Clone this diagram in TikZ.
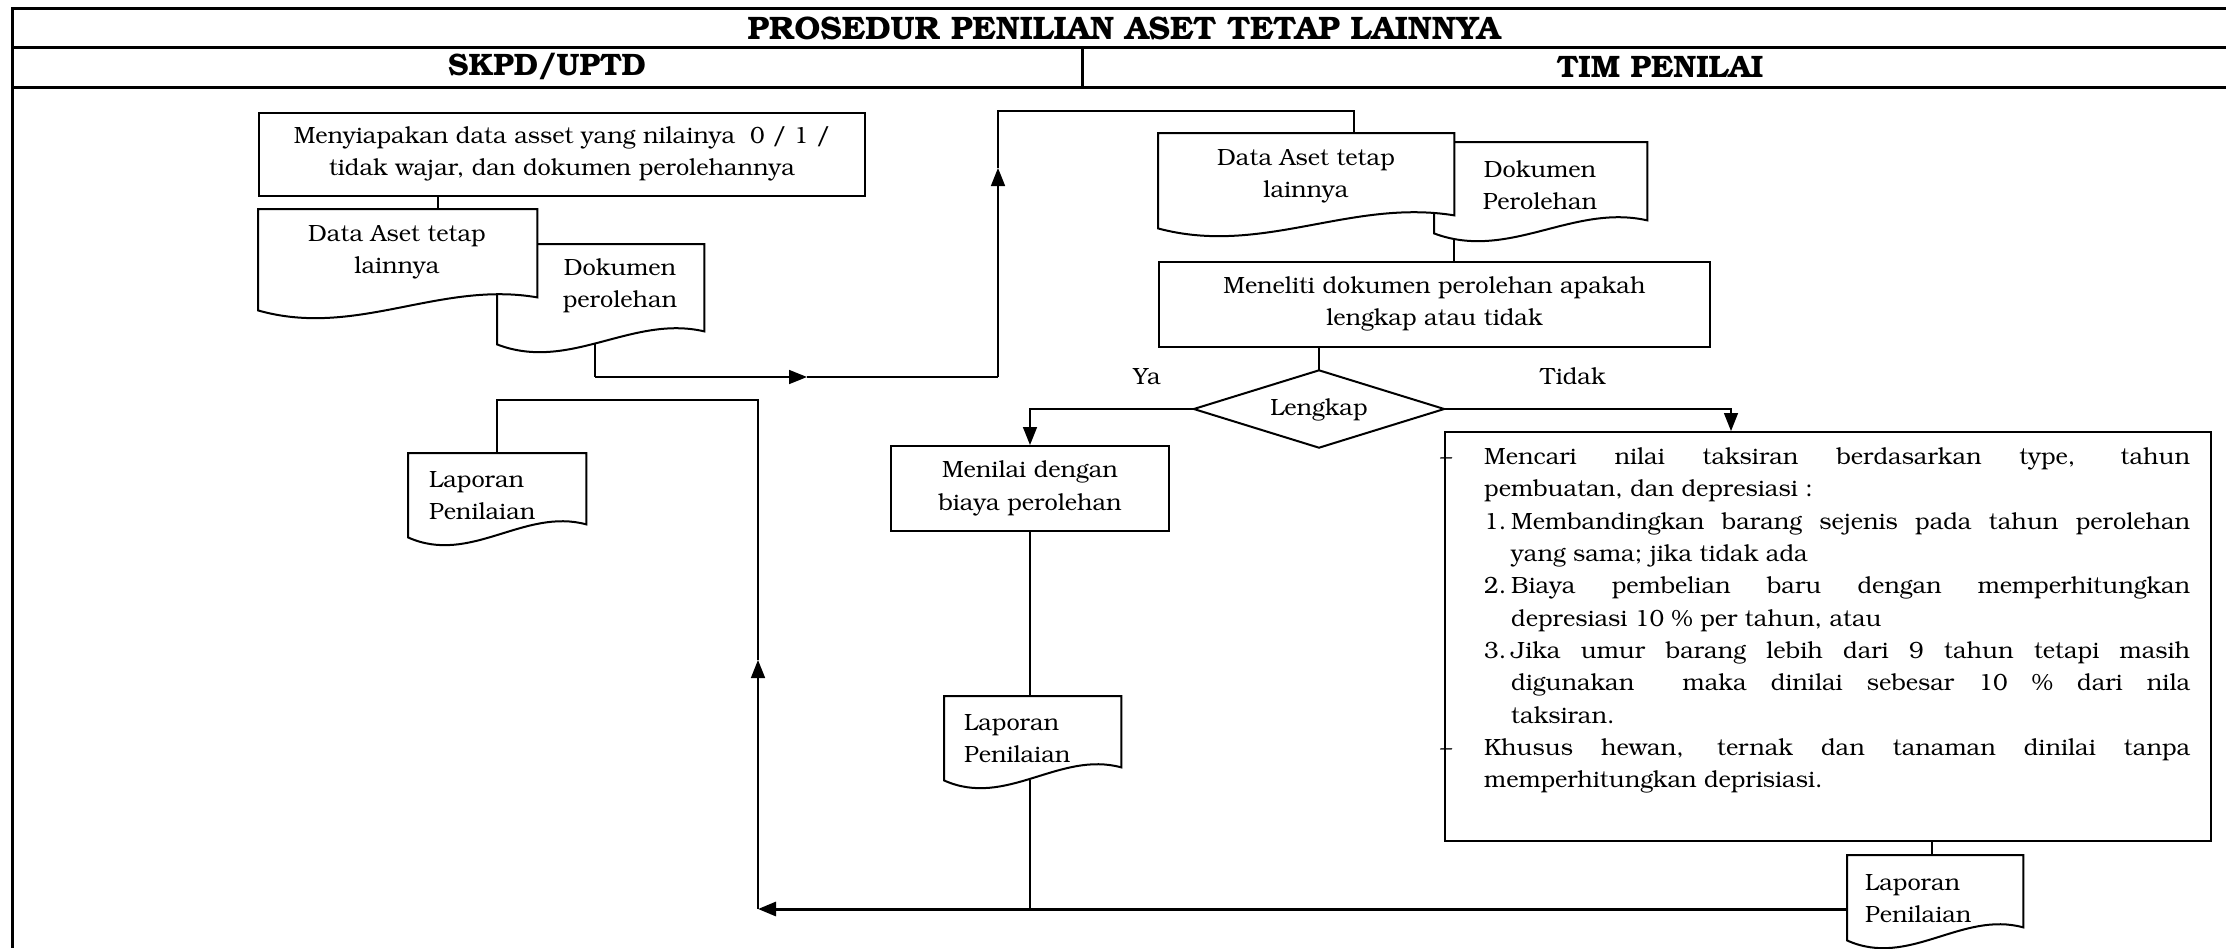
\documentclass[tikz,border=0pt]{standalone}
\usepackage[T1]{fontenc}
\usepackage{bookman}
\usetikzlibrary{arrows.meta,shapes.geometric,calc}

\tikzset{
  frameline/.style={line width=3pt},
  boxline/.style={draw, line width=2pt, fill=white},
  conn/.style={line width=1.6pt},
  heavy/.style={line width=3pt},
  tipped/.style={-{Triangle[length=18pt,width=14pt]}},
  body/.style={font=\fontsize{23.5}{32.3}\selectfont},
  procbox/.style={boxline, body, align=center, inner sep=0pt, anchor=north west},
  docarea/.style={rectangle, inner sep=0pt, anchor=north west},
  doctext/.style={body, align=center, inner sep=0pt},
  doctextl/.style={body, align=left, inner sep=0pt, anchor=west},
  head/.style={font=\fontsize{31}{36}\selectfont\bfseries, inner sep=0pt},
}

% document symbol: straight top and sides, wavy bottom edge
\newcommand{\docoutline}[1]{%
  \draw[line width=2pt, fill=white]
    (#1.north west) -- (#1.north east) -- ($(#1.south east)+(0,-13)$)
    .. controls ($(#1.south west)!0.65!(#1.south east)+(0,-30)$)
           and ($(#1.south west)!0.35!(#1.south east)+(0,28)$) .. (#1.south west)
    -- cycle;}

\begin{document}
\begin{tikzpicture}[x=1pt,y=-1pt]
\fill[white] (0,0) rectangle (2226,948);
\useasboundingbox (0,0) rectangle (2226,948);

% table frame
\draw[frameline] (2226,8) -- (12,8) -- (12,948);
\draw[frameline] (12,47) -- (2226,47);
\draw[frameline] (12,87) -- (2226,87);
\draw[frameline] (1082,47) -- (1082,87);
\node[head, font=\fontsize{32.5}{36}\selectfont\bfseries] (title) at (1124,28) {PROSEDUR PENILIAN ASET TETAP LAINNYA};
\node[head] (laneA) at (547,67) {SKPD/UPTD};
\node[head] (laneB) at (1660,67) {TIM PENILAI};

% process boxes
\node[procbox, minimum width=606pt, minimum height=83pt] (prep) at (258,112)
  {Menyiapakan data asset yang nilainya\ \ 0 / 1 /\\tidak wajar, dan dokumen perolehannya};
\node[procbox, minimum width=551pt, minimum height=85pt] (check) at (1158,261)
  {Meneliti dokumen perolehan apakah\\lengkap atau tidak};
\node[procbox, minimum width=278pt, minimum height=85pt] (cost) at (890,445)
  {Menilai dengan\\biaya perolehan};
\node[boxline, minimum width=766pt, minimum height=409pt, anchor=north west] (rules) at (1444,431) {};

% decision: area, outline, label
\node[rectangle, inner sep=0pt, minimum width=250pt, minimum height=77pt] (dia) at (1319,409) {};
\draw[line width=2pt, fill=white] (dia.north) -- (dia.east) -- (dia.south) -- (dia.west) -- cycle;
\node[body, inner sep=0pt] (dialabel) at ([yshift=-1pt]dia.center) {Lengkap};

% areas of the document symbols
\node[docarea, minimum width=279pt, minimum height=101pt] (dl1) at (258,209) {};
\node[docarea, minimum width=207pt, minimum height=100pt] (dl2) at (497,244) {};
\node[docarea, minimum width=296pt, minimum height=95pt] (dr1) at (1158,133) {};
\node[docarea, minimum width=213pt, minimum height=91pt] (dr2) at (1434,142) {};
\node[docarea, minimum width=178pt, minimum height=84pt] (lapL) at (408,453) {};
\node[docarea, minimum width=177pt, minimum height=84pt] (lapM) at (944,696) {};
\node[docarea, minimum width=176pt, minimum height=85pt] (lapR) at (1847,855) {};

% connectors
\draw[conn] ([xshift=40.5pt]dl1.north) -- ([xshift=40.5pt]dl1.north |- prep.south);

\coordinate (c1) at ([xshift=-5.5pt]dl2.south);
\coordinate (c2) at (998,377);
\coordinate (m1) at (807,377);
\coordinate (m2) at (998,168);
\coordinate (c3) at (998,111);
\draw[conn] (c1) -- (c1 |- c2);
\draw[conn,tipped] (c1 |- c2) -- (m1);
\draw[conn] (m1) -- (c2);
\draw[conn,tipped] (c2) -- (m2);
\draw[conn] (m2) -- (c3) -- ([xshift=48pt]dr1.north |- c3) -- ([xshift=48pt]dr1.north);

\draw[conn] ([xshift=-86.5pt]dr2.south) -- ([xshift=-86.5pt]dr2.south |- check.north);
\draw[conn] (dia.north |- check.south) -- (dia.north);

\draw[conn,tipped] (dia.west) -| (cost.north);
\draw[conn,tipped] (dia.east) -| ([xshift=-97pt]rules.north);

\draw[conn] (cost.south) -- (cost.south |- lapM.north);
\coordinate (b1) at (758,909);
\draw[conn] (cost.south |- lapM.south) -- (cost.south |- b1);
\draw[conn] ([xshift=104pt]rules.south) -- ([xshift=104pt]rules.south |- lapR.north);

\draw[heavy,tipped] (b1 -| lapR.west) -- (b1);
\coordinate (m3) at (758,660);
\coordinate (c7) at (758,400);
\draw[conn,tipped] (b1) -- (m3);
\draw[conn] (m3) -- (c7) -- (lapL.north |- c7) -- (lapL.north);

% document symbols (back ones first)
\docoutline{dl2}
\docoutline{dl1}
\docoutline{dr2}
\docoutline{dr1}
\docoutline{lapL}
\docoutline{lapM}
\docoutline{lapR}

\node[doctext] (dl1t) at (397,252) {Data Aset tetap\\lainnya};
\node[doctext] (dl2t) at (620,286) {Dokumen\\perolehan};
\node[doctext] (dr1t) at (1306,176) {Data Aset tetap\\lainnya};
\node[doctext] (dr2t) at (1540,185) {Dokumen\\Perolehan};
\node[doctextl] (lapLt) at (429,495) {Laporan\\Penilaian};
\node[doctextl] (lapMt) at (964,738) {Laporan\\Penilaian};
\node[doctextl] (lapRt) at (1865,898) {Laporan\\Penilaian};

% branch labels
\node[body] (ya) at (1147,376) {Ya};
\node[body] (tidak) at (1573,376) {Tidak};

% estimation rules
\node[body, text width=706pt, align=justify, inner sep=0pt, anchor=north west] (rulestext) at (1484,448) {%
  \tolerance=10000 \hyphenpenalty=10000
  \noindent\llap{--\hspace{32pt}}Mencari nilai taksiran berdasarkan type, tahun\linebreak
  pembuatan, dan depresiasi :\par
  \hangindent=27pt\hangafter=1\noindent\makebox[27pt][l]{1.}Membandingkan barang sejenis pada tahun perolehan\linebreak
  yang sama; jika tidak ada\par
  \hangindent=27pt\hangafter=1\noindent\makebox[27pt][l]{2.}Biaya pembelian baru dengan memperhitungkan\linebreak
  depresiasi 10 \% per tahun, atau\par
  \hangindent=27pt\hangafter=1\noindent\makebox[27pt][l]{3.}Jika umur barang lebih dari 9 tahun tetapi masih\linebreak
  digunakan\ \ maka dinilai sebesar 10 \% dari nila\linebreak
  taksiran.\par
  \noindent\llap{--\hspace{32pt}}Khusus hewan, ternak dan tanaman dinilai tanpa\linebreak
  memperhitungkan deprisiasi.\par};

\end{tikzpicture}
\end{document}
